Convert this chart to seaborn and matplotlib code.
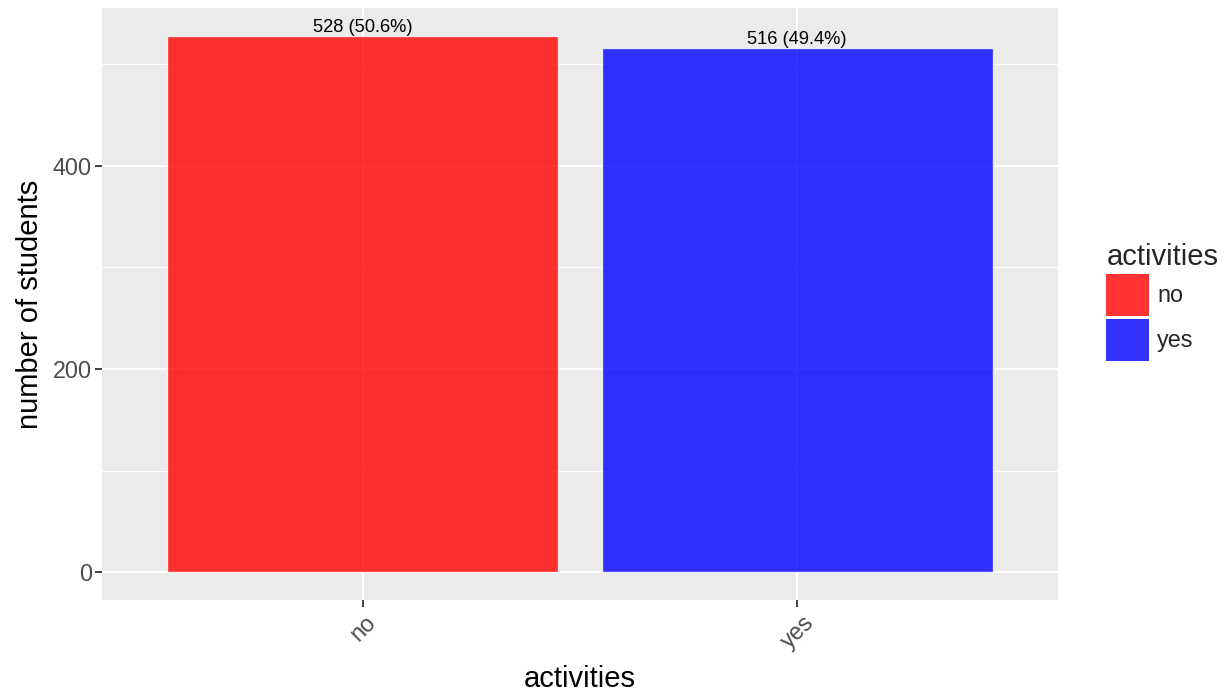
import matplotlib
matplotlib.use("Agg")
import matplotlib.pyplot as plt
import matplotlib.patches as mpatches
import seaborn as sns
import pandas as pd

# datos
categorias = ["no", "yes"]
conteos = [528, 516]
porcentajes = [50.6, 49.4]
colores = {"no": "red", "yes": "blue"}

df = pd.DataFrame({"activities": categorias, "n": conteos})

sns.set_theme(style="darkgrid")
plt.rcParams["font.family"] = ["Liberation Sans", "DejaVu Sans"]

fig = plt.figure(figsize=(12.25, 6.96), dpi=100)
ax = fig.add_axes([102 / 1225, 96 / 696, 956 / 1225, 592 / 696])
ax.set_facecolor("#EBEBEB")

sns.barplot(data=df, x="activities", y="n", hue="activities", palette=colores,
            alpha=0.8, width=0.9, saturation=1, legend=False, ax=ax, zorder=3)

# etiquetas encima de las barras
for i, (n, p) in enumerate(zip(conteos, porcentajes)):
    ax.text(i, n, f"{n} ({p}%)", ha="center", va="bottom", fontsize=13.2,
            color="black", zorder=4)

ax.set_xlim(-0.6, 1.6)
ax.set_ylim(-27.5, 555.5)
ax.set_yticks([0, 200, 400])
ax.set_yticks([100, 300, 500], minor=True)
ax.grid(which="major", color="white", linewidth=1.6, zorder=0)
ax.grid(which="minor", axis="y", color="white", linewidth=0.8, zorder=0)
ax.set_axisbelow(True)
for s in ax.spines.values():
    s.set_visible(False)

ax.tick_params(axis="both", which="major", bottom=True, left=True, length=4.8,
               width=1.3, color="#333333", labelsize=16.8, labelcolor="#4D4D4D")
ax.tick_params(axis="y", which="major", pad=2.5)
ax.tick_params(axis="x", which="major", pad=3)
ax.tick_params(axis="both", which="minor", length=0)
for lbl in ax.get_xticklabels():
    lbl.set_rotation(45)
    lbl.set_ha("center")
    lbl.set_va("top")

ax.set_xlabel("activities", fontsize=21, color="black", labelpad=9)
ax.set_ylabel("number of students", fontsize=21, color="black", labelpad=6)

handles = [mpatches.Patch(facecolor=colores[c], alpha=0.8, edgecolor="none", label=c)
           for c in categorias]
leg = fig.legend(handles=handles, title="activities", loc="upper left",
                 bbox_to_anchor=(1097 / 1225, 1 - 234 / 696), frameon=False,
                 fontsize=16.8, title_fontsize=21, handlelength=1.82, handleheight=2.43,
                 handletextpad=0.35, labelspacing=0.1, borderaxespad=0)
leg._legend_box.align = "left"

fig.savefig("out.png", dpi=100)
